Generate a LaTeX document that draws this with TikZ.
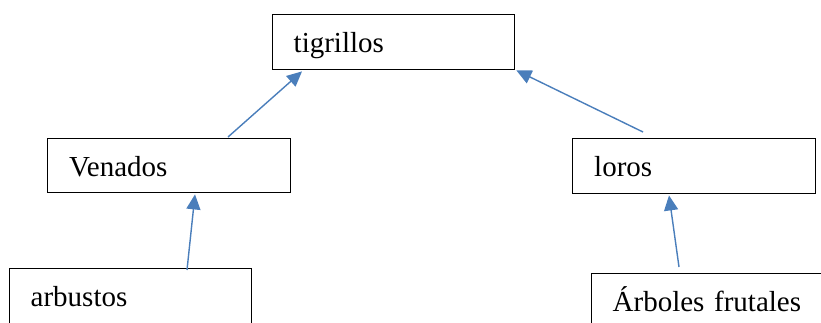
\documentclass[tikz,border=0pt]{standalone}
\usepackage{fontspec}
\setmainfont{Liberation Serif}
\usetikzlibrary{calc,arrows.meta}
\begin{document}
\begin{tikzpicture}[x=1pt,y=-1pt,
  box/.style={draw=black,line width=1.4pt,anchor=north west,minimum width=242pt,minimum height=55pt,
    inner xsep=21pt,inner ysep=0pt,text width=200pt,align=left,text height=27pt,text depth=6pt,
    font=\fontsize{29}{30}\selectfont},
  arr/.style={draw={rgb,255:red,74;green,126;blue,187},line width=1.4pt,
    -{Triangle[length=15pt,width=14pt]}}]
\clip (0,0) rectangle (821,322);
\node[box] (t) at (272,14) {tigrillos};
\node[box,minimum width=243pt,minimum height=54pt] (v) at (47,138) {Venados};
\node[box,minimum width=243pt] (l) at (572,138) {loros};
\node[box] (a) at (9,268) {arbustos};
\node[box,text width=210pt,minimum width=252pt] (f) at (591,273) {Árboles frutales};
\draw[arr] ($(v.north west)+(181,-1)$) -- ($(t.south west)+(30,1)$);
\draw[arr] ($(l.north west)+(71,-6)$) -- ($(t.south east)+(1,0)$);
\draw[arr] ($(a.north west)+(178,2)$) -- ($(v.south west)+(148,1)$);
\draw[arr] ($(f.north west)+(88,-6)$) -- ($(l.south west)+(97,1)$);
\end{tikzpicture}
\end{document}
